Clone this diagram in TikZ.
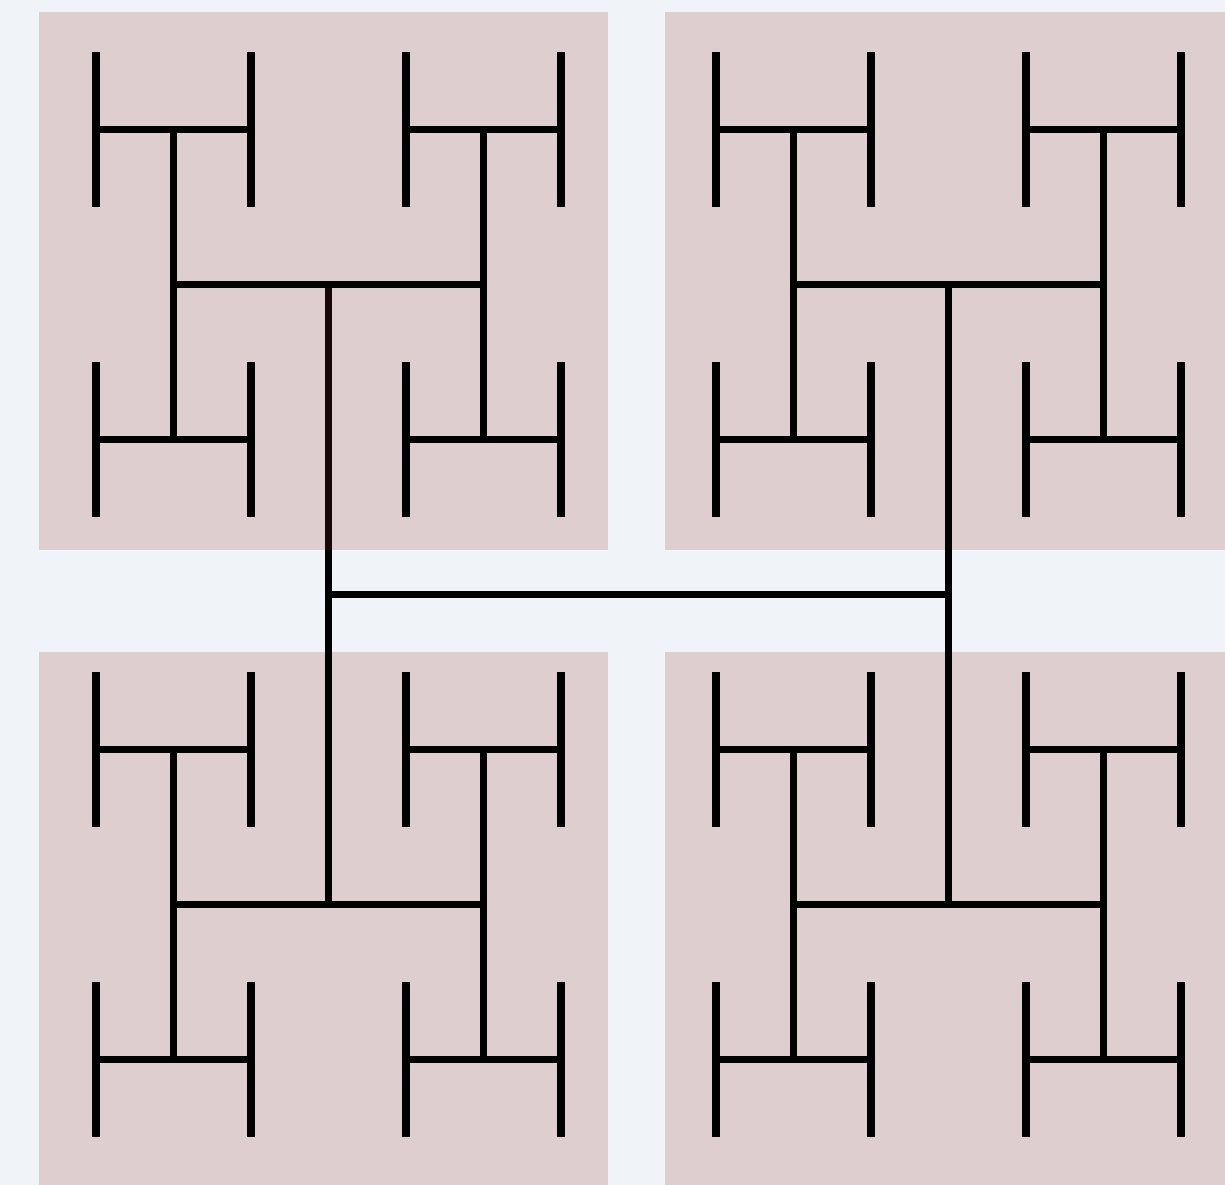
\documentclass[tikz,border=0pt]{standalone}
\usepackage{xcolor}
\usepackage{tikz}
\definecolor{Paper}{HTML}{F0F4F8}
\definecolor{Rose}{HTML}{DECECF}
\definecolor{Wine}{HTML}{1A0808}
% one H: centre x, centre y, half size
\newcommand{\drawH}[3]{%
  \draw[hline] (#1-#3,#2) -- (#1+#3,#2);
  \draw[hline] (#1-#3,#2-#3) -- (#1-#3,#2+#3);
  \draw[hline] (#1+#3,#2-#3) -- (#1+#3,#2+#3);}

\begin{document}
\begin{tikzpicture}[x=0.75pt,y=-0.75pt,
    hline/.style={draw=black,line width=5.6pt,line cap=butt},
    quad/.style={fill=Rose,draw=none}]
  \useasboundingbox[fill=Paper] (0,0) rectangle (1225,1185);
  % the four tiles
  \fill[quad] (39,12) rectangle (608,550);
  \fill[quad] (665,12) rectangle (1234,550);
  \fill[quad] (39,652) rectangle (608,1190);
  \fill[quad] (665,652) rectangle (1234,1190);
  % level 1
  \draw[hline] (328.5,594.5) -- (948.5,594.5);
  \draw[hline,draw=Wine] (328.5,284.5) -- (328.5,550);
  \draw[hline] (328.5,550) -- (328.5,904.5);
  \draw[hline] (948.5,284.5) -- (948.5,904.5);
  % levels 2 and 3
  \foreach \sx in {-1,1}
    \foreach \sy in {-1,1} {
      \pgfmathsetmacro{\cx}{638.5+\sx*310}
      \pgfmathsetmacro{\cy}{594.5+\sy*310}
      \drawH{\cx}{\cy}{155}
      \foreach \tx in {-1,1}
        \foreach \ty in {-1,1} {
          \drawH{\cx+\tx*155}{\cy+\ty*155}{77.5}
        }
    }
\end{tikzpicture}
\end{document}
